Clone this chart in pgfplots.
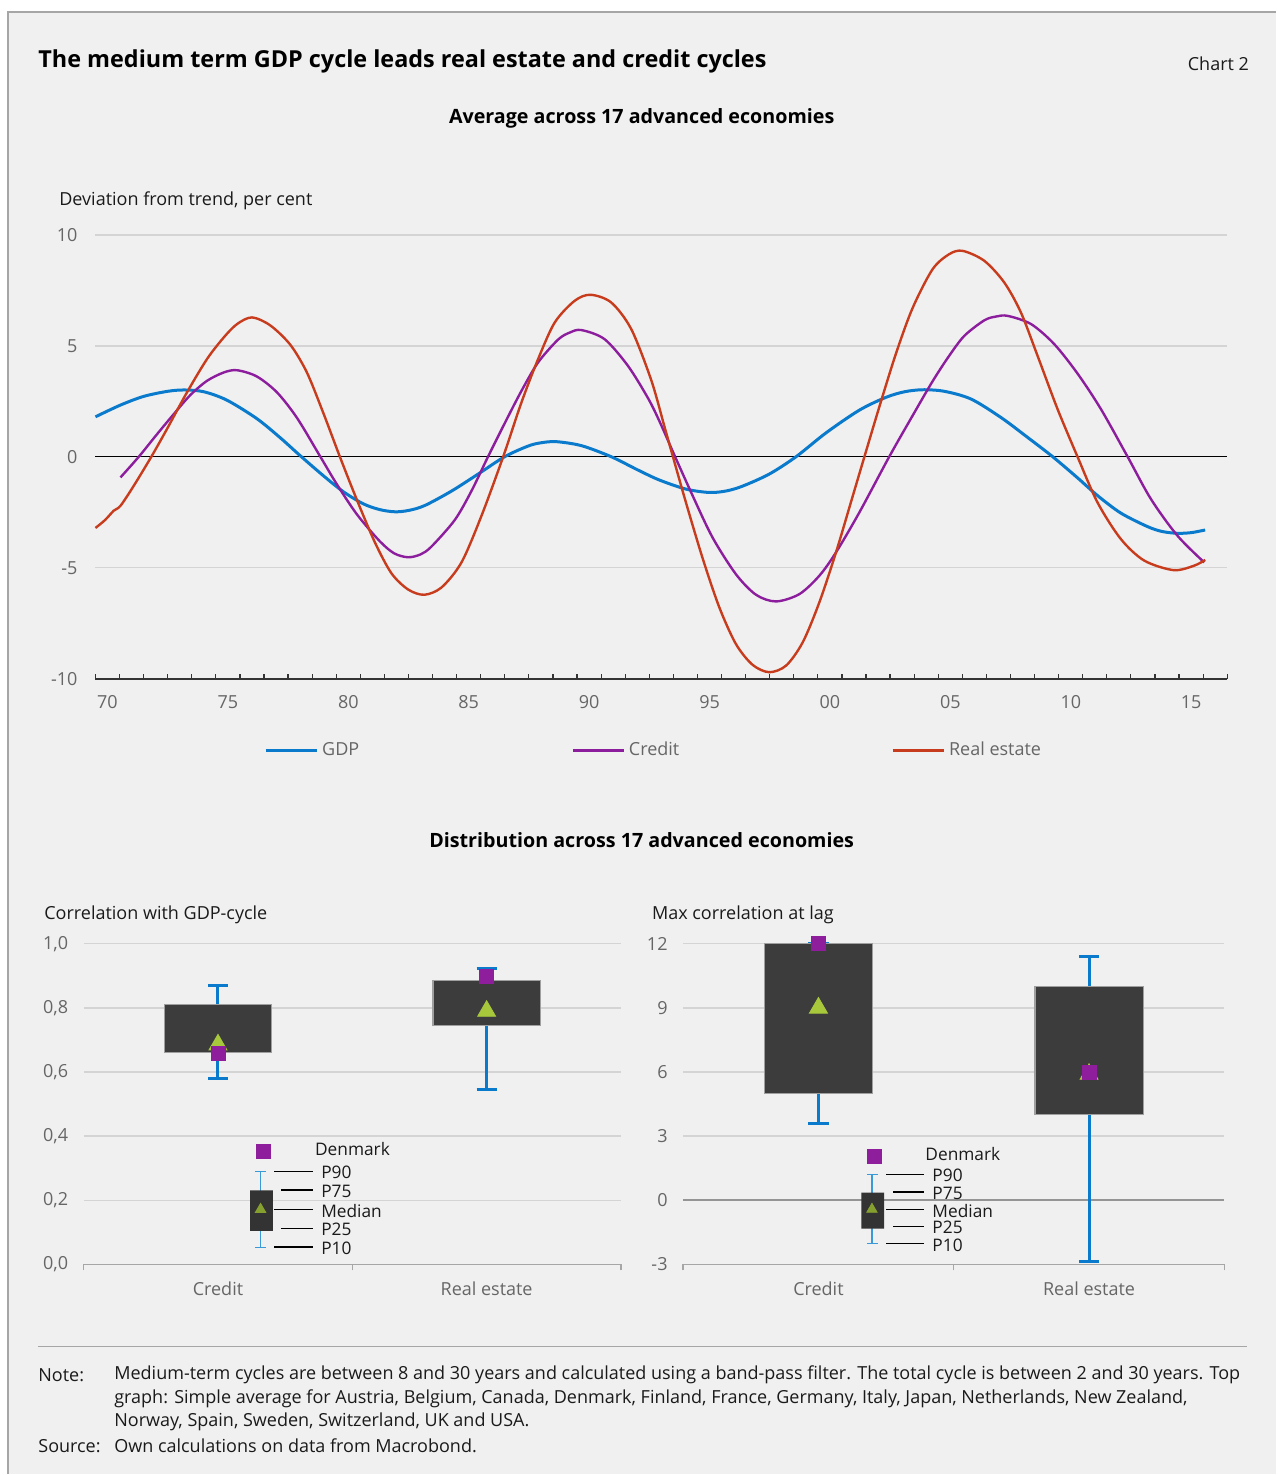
\documentclass[border=0pt]{standalone}
\usepackage{fontspec}
\setmainfont{Open Sans}
\usepackage{pgfplots}
\pgfplotsset{compat=1.18}
\usepgfplotslibrary{statistics}

\definecolor{bg}{HTML}{F0F0F0}
\definecolor{frame}{HTML}{A6A6A6}
\definecolor{gdpc}{HTML}{0A7ACC}
\definecolor{crc}{HTML}{8C1E9E}
\definecolor{rec}{HTML}{C83C1E}
\definecolor{gridc}{HTML}{D4D4D4}
\definecolor{tickc}{HTML}{666666}
\definecolor{boxc}{HTML}{3C3C3C}
\definecolor{medc}{HTML}{A8C83C}
\definecolor{denc}{HTML}{8E1E9C}
\definecolor{wblue}{HTML}{0A7ACC}
\definecolor{wlight}{HTML}{3A9AD9}
\definecolor{txt}{HTML}{1A1A1A}

\newcommand{\tickfont}{\fontsize{9}{10.5}\selectfont}
\newcommand{\smallfont}{\fontsize{8.65}{10}\selectfont}

\pgfplotsset{
  boxpanel/.style={
    scale only axis, clip=false,
    xmin=0, xmax=2,
    axis x line*=bottom, axis y line*=left,
    y axis line style={draw=none},
    x axis line style={draw=frame, line width=0.7pt},
    ymajorgrids, grid style={gridc, line width=0.7pt},
    xtick={0.5,1.5}, xticklabels={Credit,Real estate},
    major x tick style={draw=none},
    minor xtick={0,1,2},
    minor x tick style={draw=frame, line width=0.7pt},
    minor tick length=3pt, tick align=outside,
    major y tick style={draw=none},
    ticklabel style={font=\tickfont, color=tickc},
    xticklabel style={yshift=-1pt},
    yticklabel style={xshift=0pt},
    /pgf/number format/assume math mode=true,
    boxplot/draw direction=y,
    boxplot/box extend=0.4,
    boxplot/whisker extend=0.075,
    boxplot/every box/.style={fill=boxc, draw=gray!75, line width=0.6pt},
    boxplot/every whisker/.style={draw=wblue, line width=1.5pt},
    boxplot/every median/.style={draw=none},
  },
}

\begin{document}
\begin{tikzpicture}
% background, titles and notes (pixel grid: 1px = 0.5pt)
\begin{scope}[x=0.5pt, y=-0.5pt]
  \fill[white] (0,0) rectangle (1277,1475);
  \fill[bg] (8,12) rectangle (1277,1475);
  \draw[frame, line width=0.8pt] (8,1475) -- (8,12) -- (1277,12);
  \begin{scope}[every node/.style={inner sep=0pt}]
  \node[anchor=west, text=black, font=\bfseries\fontsize{11.7}{13}\selectfont] at (38,61)
    {The medium term GDP cycle leads real estate and credit cycles};
  \node[anchor=east, text=txt, font=\tickfont] at (1250,64) {Chart 2};
  \node[text=black, font=\bfseries\fontsize{9.85}{11}\selectfont] at (642,118)
    {Average across 17 advanced economies};
  \node[anchor=west, text=txt, font=\tickfont] at (59,201) {Deviation from trend, per cent};
  \node[text=black, font=\bfseries\fontsize{9.85}{11}\selectfont] at (642,841)
    {Distribution across 17 advanced economies};
  \node[anchor=west, text=txt, font=\tickfont] at (44,915) {Correlation with GDP-cycle};
  \node[anchor=west, text=txt, font=\tickfont] at (652,915) {Max correlation at lag};
  \end{scope}
  \draw[frame, line width=0.7pt] (38,1347) -- (1248,1347);
  \begin{scope}[every node/.style={anchor=west, text=txt, font=\fontsize{9}{10.5}\selectfont, inner sep=0pt}]
    \node at (38,1375.5) {Note:};
    \node at (114,1375.5) {Medium-term cycles are between 8 and 30 years and calculated using a band-pass filter. The total cycle is between 2 and 30 years. Top};
    \node at (114,1399.5) {graph: Simple average for Austria, Belgium, Canada, Denmark, Finland, France, Germany, Italy, Japan, Netherlands, New Zealand,};
    \node at (114,1422.5) {Norway, Spain, Sweden, Switzerland, UK and USA.};
    \node at (38,1446.5) {Source:};
    \node at (114,1446.5) {Own calculations on data from Macrobond.};
  \end{scope}
\end{scope}

% top chart
\begin{axis}[
  at={(47.75pt,-339.5pt)}, anchor=south west,
  scale only axis, width=566.25pt, height=222pt, clip=false,
  xmin=1970, xmax=2017, ymin=-10, ymax=10,
  axis x line*=bottom, axis y line*=left,
  y axis line style={draw=none},
  x axis line style={draw=black!80, line width=0.9pt},
  xtick={1970,...,2017}, xticklabels={},
  tick align=inside, major tick length=2.3pt,
  x tick style={draw=black!80, line width=0.6pt},
  extra x ticks={1970.5,1975.5,1980.5,1985.5,1990.5,1995.5,2000.5,2005.5,2010.5,2015.5},
  extra x tick labels={70,75,80,85,90,95,00,05,10,15},
  extra x tick style={major tick length=0pt, xticklabel style={yshift=-5pt}},
  ytick={-10,-5,0,5,10},
  major y tick style={draw=none},
  ymajorgrids, grid style={gridc, line width=0.7pt},
  ticklabel style={font=\tickfont, color=tickc},
  yticklabel style={xshift=-5.5pt},
  /pgf/number format/assume math mode=true,
  legend columns=3,
  legend style={at={(0.494,-0.162)}, anchor=center, draw=none, fill=none,
    font=\tickfont, text=tickc,
    /tikz/every even column/.append style={column sep=104.25pt}},
  legend image code/.code={\draw[#1] (0pt,0pt) -- (25.5pt,0pt);},
]
\addplot[black, line width=0.7pt, forget plot] coordinates {(1970,0) (2017,0)};
\addplot[gdpc, line width=1.5pt, smooth] coordinates {
(1970.0,1.80)(1971.04,2.33)(1972.0,2.72)(1973.0,2.95)(1973.7,3.01)(1974.5,2.93)
(1975.46,2.55)(1976.7,1.72)(1977.68,0.85)(1978.5,0.05)(1979.47,-0.86)(1980.3,-1.58)
(1981.12,-2.12)(1981.8,-2.38)(1982.43,-2.48)(1983.0,-2.42)(1983.67,-2.2)(1984.78,-1.55)
(1985.89,-0.78)(1986.99,0.0)(1987.96,0.48)(1988.5,0.63)(1989.14,0.68)(1990.18,0.50)
(1991.42,0.0)(1992.53,-0.6)(1993.42,-1.05)(1994.53,-1.46)(1995.5,-1.61)(1996.2,-1.54)
(1996.88,-1.32)(1997.98,-0.78)(1999.09,0.0)(2000.34,1.08)(2001.72,2.1)(2002.83,2.68)
(2003.6,2.93)(2004.35,3.02)(2005.25,2.95)(2006.36,2.6)(2007.6,1.77)(2008.71,0.87)
(2009.75,0.0)(2010.78,-0.95)(2011.61,-1.75)(2012.58,-2.54)(2013.69,-3.15)(2014.3,-3.37)
(2014.93,-3.45)(2015.5,-3.42)(2016.08,-3.30)
};
\addlegendentry{GDP}
\addplot[crc, line width=1.2pt, smooth] coordinates {
(1971.04,-0.93)(1971.8,0.0)(1972.56,1.02)(1973.25,1.92)(1973.94,2.78)(1974.63,3.42)
(1975.33,3.80)(1975.88,3.90)(1976.7,3.62)(1977.54,2.9)(1978.37,1.75)(1979.34,0.0)
(1980.03,-1.25)(1980.86,-2.6)(1981.8,-3.8)(1982.4,-4.35)(1982.98,-4.53)(1983.5,-4.4)
(1983.95,-4.05)(1984.92,-2.85)(1985.61,-1.55)(1986.3,0.0)(1986.99,1.5)(1987.69,2.97)
(1988.38,4.25)(1989.21,5.28)(1989.7,5.6)(1990.18,5.71)(1991.14,5.3)(1992.11,4.1)
(1992.94,2.65)(1993.42,1.6)(1994.07,0.0)(1994.8,-1.76)(1995.63,-3.65)(1996.6,-5.3)
(1997.43,-6.22)(1998.26,-6.52)(1999.23,-6.19)(2000.06,-5.36)(2000.75,-4.31)(2001.72,-2.51)
(2002.96,0.0)(2003.93,1.85)(2004.76,3.4)(2005.45,4.55)(2006.08,5.45)(2006.91,6.15)
(2007.4,6.32)(2007.88,6.35)(2008.85,5.98)(2009.81,5.08)(2010.78,3.75)(2011.75,2.15)
(2012.86,0.0)(2013.83,-1.91)(2014.93,-3.56)(2016.04,-4.76)
};
\addlegendentry{Credit}
\addplot[rec, line width=1.2pt, smooth] coordinates {
(1970.0,-3.21)(1970.4,-2.85)(1970.76,-2.43)(1971.04,-2.21)(1971.59,-1.31)(1972.32,0.0)
(1972.97,1.25)(1973.8,2.9)(1974.63,4.4)(1975.33,5.38)(1975.88,5.98)(1976.5,6.28)
(1977.26,5.92)(1978.09,5.05)(1978.78,3.8)(1979.47,1.95)(1980.15,0.0)(1980.84,-1.9)
(1981.6,-3.85)(1982.29,-5.25)(1982.98,-5.98)(1983.65,-6.22)(1984.37,-5.89)(1985.2,-4.76)
(1986.03,-2.66)(1986.93,0.0)(1987.69,2.45)(1988.38,4.4)(1989.07,6.05)(1989.9,7.03)
(1990.56,7.3)(1991.42,6.95)(1992.25,5.75)(1993.08,3.45)(1993.63,1.35)(1993.98,0.0)
(1994.53,-2.1)(1995.22,-4.6)(1995.91,-6.8)(1996.6,-8.45)(1997.29,-9.38)(1997.98,-9.71)
(1998.68,-9.41)(1999.37,-8.36)(2000.06,-6.56)(2000.75,-4.31)(2001.37,-2.05)(2001.93,0.0)
(2002.55,2.25)(2003.24,4.65)(2003.93,6.7)(2004.76,8.45)(2005.45,9.13)(2006.01,9.28)
(2006.91,8.83)(2007.74,7.85)(2008.43,6.5)(2009.12,4.55)(2009.95,2.15)(2010.78,0.0)
(2011.61,-2.06)(2012.58,-3.71)(2013.55,-4.68)(2014.77,-5.11)(2015.62,-4.91)(2016.08,-4.65)
};
\addlegendentry{Real estate}
\end{axis}

% bottom left: correlation with GDP cycle
\begin{axis}[boxpanel,
  at={(41.85pt,-632.5pt)}, anchor=south west,
  width=268.8pt, height=160.35pt,
  ymin=0, ymax=1, ytick={0,0.2,...,1.0},
  yticklabel style={/pgf/number format/.cd, use comma, fixed, fixed zerofill, precision=1},
]
\addplot[boxplot prepared={draw position=0.5, lower whisker=0.58, lower quartile=0.66,
  median=0.69, upper quartile=0.81, upper whisker=0.87}] coordinates {};
\addplot[boxplot prepared={draw position=1.5, lower whisker=0.546, lower quartile=0.745,
  median=0.79, upper quartile=0.886, upper whisker=0.923}] coordinates {};
\addplot[only marks, mark=triangle*, mark size=5.2pt, color=medc] coordinates {(0.5,0.685) (1.5,0.79)};
\addplot[only marks, mark=square*, mark size=3.5pt, color=denc] coordinates {(0.5,0.658) (1.5,0.897)};
% key
\addplot[only marks, mark=square*, mark size=3.5pt, color=denc] coordinates {(0.670,0.353)};
\addplot[wlight, line width=0.7pt] coordinates {(0.6585,0.289) (0.6585,0.052)};
\addplot[wlight, line width=0.7pt] coordinates {(0.6395,0.289) (0.680,0.289)};
\addplot[wlight, line width=0.7pt] coordinates {(0.6395,0.052) (0.680,0.052)};
\addplot[fill=boxc!85!black, draw=none] coordinates {(0.6194,0.104) (0.7046,0.104) (0.7046,0.231) (0.6194,0.231) (0.6194,0.104)};
\addplot[only marks, mark=triangle*, mark size=3pt, color=medc!80!black] coordinates {(0.6585,0.1715)};
\addplot[black, line width=0.8pt] coordinates {(0.709,0.289) (0.852,0.289)};
\addplot[black, line width=0.8pt] coordinates {(0.734,0.231) (0.852,0.231)};
\addplot[black, line width=0.8pt] coordinates {(0.709,0.1715) (0.852,0.1715)};
\addplot[black, line width=0.8pt] coordinates {(0.734,0.112) (0.852,0.112)};
\addplot[black, line width=0.8pt] coordinates {(0.709,0.054) (0.852,0.054)};
\begin{scope}[every node/.style={anchor=west, inner sep=0pt, text=txt, font=\smallfont}]
\node at (axis cs:0.860,0.3586) {Denmark};
\node at (axis cs:0.883,0.286) {P90};
\node at (axis cs:0.883,0.227) {P75};
\node at (axis cs:0.883,0.167) {Median};
\node at (axis cs:0.883,0.109) {P25};
\node at (axis cs:0.883,0.050) {P10};
\end{scope}
\end{axis}

% bottom right: max correlation at lag
\begin{axis}[boxpanel,
  at={(341.75pt,-632.5pt)}, anchor=south west,
  width=270.75pt, height=160.35pt,
  ymin=-3, ymax=12, ytick={-3,0,...,12},
]
\addplot[frame!90!black, line width=0.8pt] coordinates {(0,0) (2,0)};
\addplot[boxplot prepared={draw position=0.5, lower whisker=3.6, lower quartile=5,
  median=9, upper quartile=12, upper whisker=12}] coordinates {};
\addplot[boxplot prepared={draw position=1.5, lower whisker=-2.85, lower quartile=4,
  median=6, upper quartile=10, upper whisker=11.4}] coordinates {};
\addplot[only marks, mark=triangle*, mark size=5.2pt, color=medc] coordinates {(0.5,9.0) (1.5,5.9)};
\addplot[only marks, mark=square*, mark size=3.5pt, color=denc] coordinates {(0.5,12) (1.5,6.0)};
% key
\addplot[only marks, mark=square*, mark size=3.5pt, color=denc] coordinates {(0.7066,2.07)};
\addplot[wlight, line width=0.7pt] coordinates {(0.6977,1.2) (0.6977,-2.03)};
\addplot[wlight, line width=0.7pt] coordinates {(0.6796,1.2) (0.7202,1.2)};
\addplot[wlight, line width=0.7pt] coordinates {(0.6796,-2.03) (0.7202,-2.03)};
\addplot[fill=boxc!85!black, draw=none] coordinates {(0.6586,-1.33) (0.7428,-1.33) (0.7428,0.355) (0.6586,0.355) (0.6586,-1.33)};
\addplot[only marks, mark=triangle*, mark size=3pt, color=medc!80!black] coordinates {(0.6977,-0.426)};
\addplot[black, line width=0.8pt] coordinates {(0.750,1.2) (0.890,1.2)};
\addplot[black, line width=0.8pt] coordinates {(0.777,0.385) (0.890,0.385)};
\addplot[black, line width=0.8pt] coordinates {(0.750,-0.426) (0.890,-0.426)};
\addplot[black, line width=0.8pt] coordinates {(0.777,-1.235) (0.890,-1.235)};
\addplot[black, line width=0.8pt] coordinates {(0.750,-2.03) (0.890,-2.03)};
\begin{scope}[every node/.style={anchor=west, inner sep=0pt, text=txt, font=\smallfont}]
\node at (axis cs:0.894,2.15) {Denmark};
\node at (axis cs:0.920,1.165) {P90};
\node at (axis cs:0.920,0.32) {P75};
\node at (axis cs:0.920,-0.5) {Median};
\node at (axis cs:0.920,-1.28) {P25};
\node at (axis cs:0.920,-2.11) {P10};
\end{scope}
\end{axis}
\end{tikzpicture}
\end{document}
